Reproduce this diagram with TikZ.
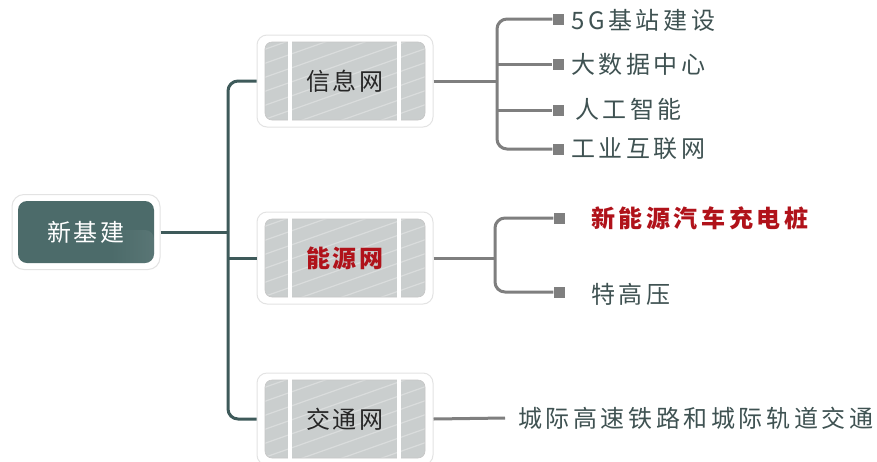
\documentclass[tikz,border=0pt]{standalone}
\usepackage{fontspec}
\setmainfont{Noto Sans CJK SC}
\newfontfamily\cjk{Noto Sans CJK SC}[LetterSpace=11]
\newfontfamily\cjkwide{Noto Sans CJK SC}[LetterSpace=15]
\usetikzlibrary{calc}
\definecolor{trunkc}{HTML}{3E5A5A}
\definecolor{branchc}{HTML}{7F7F7F}
\definecolor{rootc}{HTML}{4C6B6A}
\definecolor{innerc}{HTML}{CACECE}
\definecolor{childc}{HTML}{3F5252}
\definecolor{redc}{HTML}{B0121A}
\tikzset{
  txt/.style={font=\cjk\fontsize{24}{28}\selectfont, inner sep=0},
  outerbox/.style={rounded corners=10, fill=white, draw=gray!22, line width=1pt, minimum width=176, minimum height=92, inner sep=0},
  rootouter/.style={rounded corners=12, fill=white, draw=gray!22, line width=1pt, minimum width=148, minimum height=75, inner sep=0},
  trunk/.style={draw=trunkc, line width=3},
  branch/.style={draw=branchc, line width=3},
  sq/.style={fill=branchc, minimum size=11, inner sep=0},
  child/.style={inner sep=0, font=\cjkwide\fontsize{24}{28}\selectfont, text=childc, anchor=west},
  lvltxt/.style={txt, text=black!85},
  lvlred/.style={txt, text=redc, font=\cjk\fontsize{24}{28}\selectfont\bfseries},
}
\newcommand\lvlbox[4]{%
  \node[outerbox] (#1) at (345,#2) {};
  \begin{scope}[shift={(345,#2)}]
    \fill[innerc, rounded corners=7] (-80,-39) rectangle (80,39);
    \begin{scope}
      \clip[rounded corners=7] (-80,-39) rectangle (80,39);
      \foreach \k in {-130,-116,...,130} \draw[white, opacity=.3, line width=1.2] (-85,\k+30) -- (85,\k-30);
    \end{scope}
    \draw[gray!45, rounded corners=7, line width=0.6] (-80,-39) rectangle (80,39);
    \draw[white, line width=4] (-55,-43) -- (-55,43) (54,-43) -- (54,43);
  \end{scope}
  \node[#3] (#1-t) at (345,#2) {#4};
}
\begin{document}
\begin{tikzpicture}[x=1pt,y=-1pt]
\useasboundingbox[fill=white] (0,0) rectangle (877,461);

% root
\node[rootouter] (root) at (86,232) {};
\fill[rootc, rounded corners=9] (18,201) rectangle (154,263);
\shade[rounded corners=9, left color=rootc, right color=rootc!70!white, opacity=0.25] (110,230) rectangle (154,263);
\node[txt, text=white] (root-t) at (86,232) {新基建};

% level 1
\lvlbox{n1}{81}{lvltxt}{信息网}
\lvlbox{n2}{258}{lvlred}{能源网}
\lvlbox{n3}{419}{lvltxt}{交通网}

% trunk
\coordinate (t) at (228,232);
\draw[trunk, rounded corners=10] (n1.west) -| (t) |- (n3.west);
\draw[trunk] (root.east) -- (t);
\draw[trunk] (n2.west) -- (n2.west -| t);

% branch 1
\node[sq] (s11) at (558,19) {};
\node[sq] (s12) at (558,64) {};
\node[sq] (s13) at (558,110) {};
\node[sq] (s14) at (558,149) {};
\node[child] (c11) at (571,20) {5G基站建设};
\node[child] (c12) at (571,64) {大数据中心};
\node[child] (c13) at (575,109) {人工智能};
\node[child] (c14) at (571,149) {工业互联网};
\coordinate (b1) at (497,81);
\draw[branch] (n1.east) -- (b1);
\draw[branch, rounded corners=10] (s11.west) -| (b1) |- (s14.west);
\draw[branch] (b1 |- s12) -- (s12.west);
\draw[branch] (b1 |- s13) -- (s13.west);

% branch 2
\node[sq] (s21) at (559,218) {};
\node[sq] (s22) at (559,292) {};
\node[child, text=redc, font=\cjkwide\fontsize{24}{28}\selectfont\bfseries] (c21) at (591,218) {新能源汽车充电桩};
\node[child] (c22) at (591,294) {特高压};
\coordinate (b2) at (495,258);
\draw[branch] (n2.east) -- (b2);
\draw[branch, rounded corners=10] (s21.west) -| (b2) |- (s22.west);

% branch 3
\node[child] (c31) at (518,418) {城际高速铁路和城际轨道交通};
\draw[branch] (n3.east) -- ([xshift=-13pt]c31.west);
\end{tikzpicture}
\end{document}
